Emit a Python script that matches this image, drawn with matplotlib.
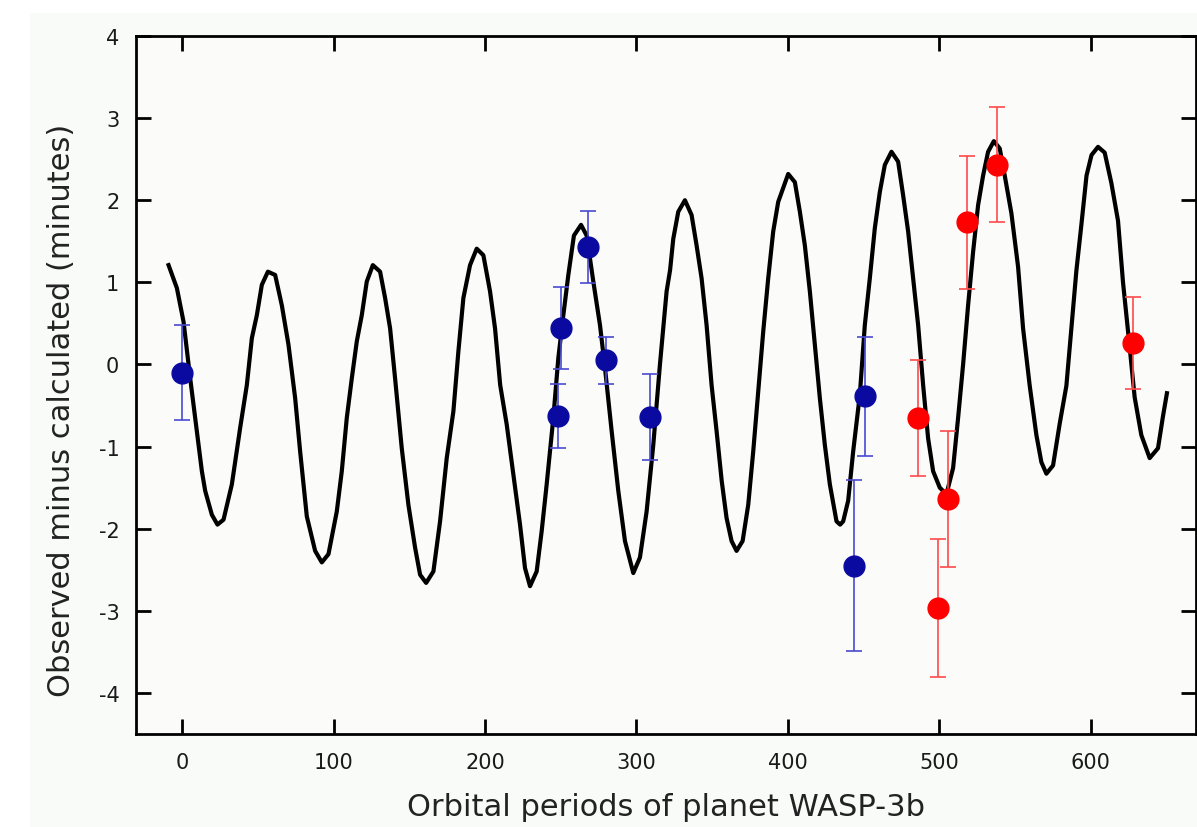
import matplotlib
matplotlib.use("Agg")
import matplotlib.pyplot as plt
from matplotlib.patches import Rectangle

plt.rcParams["axes.unicode_minus"] = False

# Model curve
curve_x = [-9, -3.5, 0.9, 5.3, 9.7, 13, 15.2, 19.6, 23.3, 27.3, 32.8, 38.3, 42.7, 46, 49.3, 52.6,
           56.6, 61.4, 65.8, 70.2, 74.6, 77.9, 82.3, 87.8, 92.2, 96.6, 102.1, 105.4, 108.7, 112,
           115.3, 118.6, 121.9, 125.9, 130.7, 134, 137.3, 140.6, 145, 149.4, 153.8, 157.1, 161.1,
           165.9, 170.3, 174.7, 179.1, 182.4, 185.7, 190.1, 194.5, 198.9, 203.3, 206.6, 210,
           214.3, 218.7, 223.1, 226.4, 229.7, 234.1, 237.4, 240.7, 245.1, 248.4, 251.7, 255,
           258.7, 263.4, 267.1, 271.5, 275.9, 279.2, 283.6, 288, 292.4, 297.9, 302.3, 306.7,
           311.1, 315.5, 319.9, 322.2, 324.3, 327.6, 332, 336.4, 339.7, 343, 346.3, 349.6, 352.9,
           356.3, 359.5, 362.8, 366.1, 370.1, 373.8, 377.1, 380.4, 383.7, 387, 390.3, 393.6,
           400.2, 404.6, 407.9, 411.2, 414.5, 417.8, 421.1, 424.4, 427.7, 432.1, 434.5, 436.5,
           439.8, 443.1, 447.5, 450.8, 454.1, 457.4, 460.7, 464, 468.4, 472.8, 476.1, 479.4,
           482.7, 486, 489.3, 492.6, 495.9, 500.3, 504.7, 509.1, 512.4, 515.7, 519, 522.3, 525.6,
           528.9, 532.2, 536, 539.9, 543.2, 547.6, 552, 555.3, 559.7, 564.1, 567.4, 570.7, 575.1,
           579.5, 583.9, 587.2, 590.5, 593.8, 597.2, 600.5, 604.8, 609.2, 613.6, 618, 621.3,
           625.7, 629, 633.4, 638.9, 644.4, 647.7, 650.3]
curve_y = [1.21, 0.93, 0.52, -0.17, -0.81, -1.30, -1.54, -1.83, -1.95, -1.89, -1.46, -0.77, -0.25,
           0.32, 0.60, 0.97, 1.13, 1.09, 0.72, 0.24, -0.41, -1.06, -1.85, -2.27, -2.41, -2.31,
           -1.79, -1.30, -0.65, -0.17, 0.28, 0.60, 1.01, 1.21, 1.13, 0.81, 0.44, -0.17, -1.02,
           -1.71, -2.23, -2.56, -2.66, -2.52, -1.91, -1.14, -0.57, 0.16, 0.81, 1.21, 1.41, 1.33,
           0.89, 0.44, -0.25, -0.73, -1.34, -1.95, -2.48, -2.70, -2.52, -2.03, -1.46, -0.65,
           0.08, 0.60, 1.09, 1.57, 1.70, 1.57, 1.01, 0.48, -0.04, -0.81, -1.54, -2.15, -2.54,
           -2.35, -1.79, -0.98, 0.00, 0.89, 1.15, 1.53, 1.86, 2.00, 1.82, 1.45, 1.05, 0.48,
           -0.25, -0.81, -1.42, -1.87, -2.15, -2.27, -2.15, -1.71, -1.06, -0.33, 0.40, 1.05,
           1.62, 1.98, 2.32, 2.22, 1.86, 1.45, 0.89, 0.24, -0.41, -0.98, -1.46, -1.91, -1.95,
           -1.91, -1.66, -1.06, -0.37, 0.48, 1.05, 1.66, 2.10, 2.43, 2.59, 2.47, 2.06, 1.62,
           1.05, 0.48, -0.25, -0.90, -1.30, -1.50, -1.58, -1.26, -0.65, 0.00, 0.72, 1.37, 1.94,
           2.30, 2.59, 2.72, 2.63, 2.30, 1.84, 1.19, 0.44, -0.26, -0.86, -1.19, -1.33, -1.23,
           -0.72, -0.26, 0.44, 1.14, 1.70, 2.30, 2.55, 2.65, 2.58, 2.21, 1.75, 1.00, 0.21,
           -0.40, -0.86, -1.14, -1.02, -0.63, -0.35]

# Blue observations
blue_x = [0, 248, 250, 268, 280, 309, 443.5, 451]
blue_y = [-0.10, -0.63, 0.44, 1.43, 0.05, -0.64, -2.45, -0.39]
blue_err = [0.58, 0.39, 0.50, 0.44, 0.29, 0.52, 1.04, 0.73]

# Red observations
red_x = [486, 499, 505.6, 518, 538, 628]
red_y = [-0.65, -2.97, -1.64, 1.73, 2.43, 0.26]
red_err = [0.71, 0.84, 0.83, 0.81, 0.70, 0.56]

xticks = [0, 100, 200, 300, 400, 500, 600]
yticks = [-4, -3, -2, -1, 0, 1, 2, 3, 4]

fig = plt.figure(figsize=(11.97, 8.28), dpi=100, facecolor="white")
fig.patches.append(Rectangle((30 / 1197, 0), 1, 1 - 14 / 828, transform=fig.transFigure,
                             facecolor="#f9fbf9", edgecolor="none", zorder=-10))
ax = fig.add_axes([136 / 1197, 1 - 735 / 828, (1196 - 136) / 1197, (735 - 37) / 828])
ax.set_facecolor("#fbfcfa")

ax.plot(curve_x, curve_y, color="black", lw=3, solid_joinstyle="round", zorder=2)

ax.errorbar(blue_x, blue_y, yerr=blue_err, fmt="o", color="#0a0aa0", ecolor="#4a4ad0",
            elinewidth=1.2, capsize=6, capthick=1.2, markersize=15, zorder=3)
ax.errorbar(red_x, red_y, yerr=red_err, fmt="o", color="#ff0000", ecolor="#ff4a4a",
            elinewidth=1.2, capsize=6, capthick=1.2, markersize=15, zorder=3)

ax.set_xlim(-30.5, 669.5)
ax.set_ylim(-4.5, 4)
ax.set_xticks(xticks)
ax.set_yticks(yticks)
ax.tick_params(direction="in", length=11, width=2, top=True, right=True,
               labelsize=15, colors="black")
ax.tick_params(axis="x", pad=13, labelcolor="#1a1a1a")
ax.tick_params(axis="y", pad=12, labelcolor="#1a1a1a")
for s in ax.spines.values():
    s.set_linewidth(2)

ax.set_xlabel("Orbital periods of planet WASP-3b", fontsize=22, color="#222222")
ax.set_ylabel("Observed minus calculated (minutes)", fontsize=22, color="#222222")
ax.xaxis.set_label_coords(0.5, -0.083)
ax.yaxis.set_label_coords(-0.057, 0.465)

fig.savefig("out.png", dpi=100, facecolor=fig.get_facecolor())
